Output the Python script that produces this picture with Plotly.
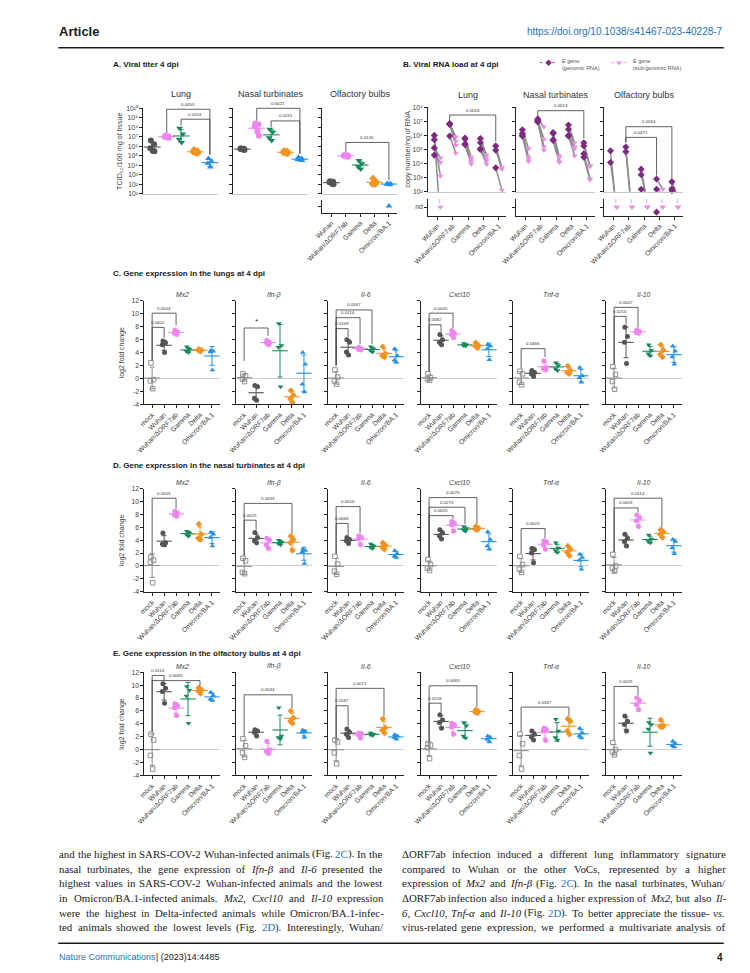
import re
import numpy as np
import plotly.graph_objects as go

W, H = 750, 973
SANS = "Liberation Sans"
SERIF = "Liberation Serif"
INK = "#1a1a1a"
TXT = "#404040"
LINK = "#1f70b8"
AXC = "#222222"

TISSUES = ["Lung", "Nasal turbinates", "Olfactory bulbs"]
VIRUSES = ["Wuhan", "Wuhan/ΔORF7ab", "Gamma", "Delta", "Omicron/BA.1"]
GROUPS = ["mock"] + VIRUSES
GENES = ["Mx2", "Ifn-β", "Il-6", "Cxcl10", "Tnf-α", "Il-10"]
ND = None

# ---------------- A: viral titre (TCID50 / 100 mg tissue), ND = not detected
A_LUNG = [[4.0e6, 1.6e6, 6.3e5, 3.2e5, 3.0e5],
          [1.3e7, 1.1e7, 1.0e7, 9.0e6, 8.0e6],
          [8.0e7, 2.0e7, 5.6e6, 2.5e6],
          [4.0e5, 3.2e5, 2.5e5, 2.0e5, 1.9e5],
          [5.0e4, 2.5e4, 1.6e4, 6.3e3]]
A_NASAL = [[6.3e5, 5.6e5, 5.0e5, 4.5e5, 4.0e5],
           [2.5e8, 2.0e8, 1.2e8, 4.0e7, 1.3e7],
           [6.3e7, 3.2e7, 8.0e6, 4.0e6],
           [3.2e5, 2.8e5, 2.2e5, 2.0e5, 1.8e5],
           [7.0e4, 5.0e4, 4.0e4, 3.5e4, 3.2e4]]
A_OLF = [[2.0e2, 1.8e2, 1.6e2, 1.1e2, 1.0e2],
         [1.2e5, 1.1e5, 1.0e5, 9.0e4, 8.0e4],
         [3.2e4, 1.4e4, 7.0e3, 4.0e3],
         [4.0e2, 1.6e2, 1.1e2, 1.0e2],
         [1.2e2, 1.1e2, 1.0e2, 9.0e1, ND]]
A_LUNG_P = [(1, 4, 9.9, 7.4, 5.1, "0.0053"), (2, 4, 8.85, 8.2, 5.1, "0.0154")]
A_NASAL_P = [(1, 4, 10.0, 8.7, 5.2, "0.0021"), (2, 4, 8.67, 8.0, 5.2, "0.0251")]
A_OLF_P = [(1, 4, 6.4, 5.4, 2.4, "0.0126")]

# ---------------- B: E gene copies / ng RNA (genomic, sub-genomic per animal)
B_LUNG_GEN = [[1.0e6, 5.0e5, 1.3e5, 4.0e4], [7.0e6, 6.5e6, 6.0e6, 9.0e5],
              [6.5e5, 5.5e5, 2.5e5, 2.2e5], [6.0e5, 3.0e5, 1.1e5, 1.0e5],
              [1.8e5, 9.0e4, 5.0e3]]
B_LUNG_SUB = [[ND, 1.3e3, 2.5e4, 1.2e4], [8.0e5, 4.0e5, 2.0e5, 5.5e4],
              [3.0e4, 2.0e4, 1.4e4, 9.0e3], [4.0e4, 2.5e4, 1.6e4, 9.0e3],
              [5.5e3, 4.0e3, 1.3e2]]
B_NASAL_GEN = [[2.5e6, 1.4e6, 1.0e6, 9.0e5], [1.5e7, 1.2e7, 1.0e7, 9.0e6],
               [1.6e6, 1.4e6, 5.0e5, 4.5e5], [5.5e6, 2.8e6, 1.0e6, 9.0e5],
               [3.0e5, 1.8e5, 5.0e4, 2.8e4]]
B_NASAL_SUB = [[1.2e5, 3.0e4, 2.0e4, 1.4e4], [4.0e6, 5.5e5, 1.6e5, 9.0e4],
               [3.5e4, 2.5e4, 1.4e4, 1.2e4], [3.0e5, 1.6e5, 1.1e5, 3.5e4],
               [7.0e3, 6.0e3, 8.0e2, 7.0e2]]
B_OLF_GEN = [[8.0e4, 1.2e4], [1.5e5, 7.0e4], [4.0e3, 1.6e3, 1.5e2],
             [8.0e2, 1.5e2, ND], [5.0e2, 1.6e2, 1.2e2]]
B_OLF_SUB = [[ND, ND], [ND, ND], [ND, ND, ND], [1.5e2, ND, ND], [ND, ND, ND]]
B_LUNG_P = [(1, 4, 7.45, 7.05, 5.6, "0.0053")]
B_NASAL_P = [(1, 4, 7.76, 7.4, 5.8, "0.0013")]
B_OLF_P = [(1, 3, 5.86, 5.5, 3.15, "0.0471"), (1, 4, 6.62, 5.5, 2.9, "0.0264")]

# ---------------- C/D/E: log2 fold change (mock, Wuhan, dORF7ab, Gamma, Delta, Omicron)
C_MX2 = [[2.4, -0.2, -0.4, -1.6], [5.8, 5.5, 5.2, 4.0], [7.5, 7.2, 7.0, 6.8],
         [4.9, 4.5, 4.2, 4.0], [4.5, 4.4, 4.3, 4.2], [4.3, 4.2, 4.1, 1.3]]
C_IFNB = [[0.7, 0.4, -0.1, -0.5], [-1.1, -1.3, -3.1, -3.4], [5.9, 5.6, 5.5, 5.2],
          [8.5, 5.1, 4.8, -1.3], [-1.9, -2.6, -3.2, -3.7], [4.0, 2.2, -0.9, -2.1]]
C_IL6 = [[1.3, 0.2, -0.4, -0.9], [6.0, 5.6, 4.1, 3.6], [4.8, 4.6, 4.5, 4.4],
         [4.9, 4.6, 4.3, 4.1], [4.9, 3.8, 3.5, 3.3], [4.6, 3.5, 2.8, 2.5]]
C_CXCL10 = [[0.7, 0.1, -0.1, -0.3], [6.8, 6.0, 5.6, 5.2], [7.4, 7.0, 6.8, 6.3],
            [5.4, 5.2, 5.1, 5.0], [5.5, 5.1, 5.0, 4.7], [5.2, 5.0, 4.6, 2.9]]
C_TNFA = [[1.1, 0.7, -0.6, -1.0], [1.2, 0.9, 0.7, 0.3], [2.7, 1.7, 1.5, 1.3],
          [2.4, 2.0, 1.5, 1.2], [1.9, 1.2, 0.9, 0.7], [1.7, 0.4, 0.1, -0.6]]
C_IL10 = [[1.8, 0.6, -0.5, -1.7], [7.9, 6.5, 5.6, 2.3], [7.5, 7.3, 7.1, 7.0],
          [5.2, 4.3, 3.8, 3.5], [5.2, 4.4, 3.7, 3.3], [5.0, 4.2, 3.3, 2.2]]

D_MX2 = [[1.4, 0.9, 0.6, -2.6], [5.1, 3.6, 3.4, 3.3], [8.5, 8.2, 7.9, 7.7],
         [5.4, 5.1, 4.9, 4.6], [6.5, 4.9, 4.3, 4.1], [5.2, 4.9, 4.4, 3.1]]
D_IFNB = [[1.2, 0.8, -1.0, -1.2], [5.2, 4.4, 3.9, 3.6], [4.3, 4.0, 3.3, 2.7],
          [4.0, 3.7, 3.5, 3.3], [4.6, 4.1, 3.6, 2.4], [2.6, 2.4, 2.2, 0.4]]
D_IL6 = [[1.5, 0.3, -0.8, -1.3], [4.4, 4.1, 3.9, 3.5], [4.7, 4.4, 4.2, 3.3],
         [3.4, 3.1, 2.9, 2.7], [3.6, 3.2, 2.9, 2.6], [2.4, 1.9, 1.5, 1.3]]
D_CXCL10 = [[1.0, 0.2, -0.3, -0.7], [5.6, 5.1, 4.7, 4.2], [6.9, 6.6, 6.4, 5.4],
            [6.1, 5.8, 5.6, 5.4], [6.1, 5.9, 5.7, 5.6], [5.3, 4.1, 3.1, 2.6]]
D_TNFA = [[1.5, 0.2, -0.5, -1.0], [2.7, 2.5, 2.0, 0.5], [3.9, 3.7, 3.3, 2.6],
          [3.6, 2.8, 2.4, 2.1], [3.1, 2.6, 2.1, 1.6], [1.8, 1.3, 0.9, -0.5]]
D_IL10 = [[1.8, 0.0, -0.3, -0.8], [4.9, 4.3, 3.8, 3.1], [7.9, 7.5, 7.0, 6.1],
          [4.8, 4.2, 3.8, 3.6], [5.6, 5.3, 4.9, 4.4], [4.1, 3.8, 2.8, 1.9]]

E_MX2 = [[2.4, 1.5, -0.9, -3.0], [10.2, 9.5, 9.0, 7.2], [7.1, 6.8, 6.5, 5.3],
         [9.8, 9.2, 8.3, 4.1], [9.6, 9.3, 9.1, 8.7], [8.9, 8.4, 7.8, 7.6]]
E_IFNB = [[1.7, 0.6, -0.5, -1.2], [3.1, 2.9, 2.7, 2.1], [1.3, 0.0, -0.3, -0.6],
          [6.5, 2.1, 1.9, 1.7], [6.0, 4.9, 4.4, 4.1], [3.0, 2.8, 2.7, 1.9]]
E_IL6 = [[1.5, 1.2, -0.5, -2.2], [3.2, 2.7, 2.4, 1.9], [2.6, 2.5, 2.3, 1.8],
         [2.6, 2.4, 2.3, 2.2], [4.8, 3.4, 3.0, 2.6], [2.3, 2.1, 1.9, 1.6]]
E_CXCL10 = [[0.9, 0.7, 0.3, -1.4], [5.4, 4.6, 4.2, 3.3], [4.1, 3.8, 3.5, 2.4],
            [4.2, 3.7, 2.1, 1.8], [6.2, 5.9, 5.8, 5.7], [2.1, 1.9, 1.6, 1.2]]
E_TNFA = [[2.4, 0.9, -0.9, -3.0], [2.9, 2.4, 2.0, 1.5], [3.3, 3.1, 2.9, 1.4],
          [4.7, 2.9, 1.9, 1.5], [4.8, 4.4, 2.9, 2.4], [3.3, 2.6, 2.1, 1.8]]
E_IL10 = [[1.1, 0.0, -0.3, -0.8], [5.2, 4.4, 3.9, 2.9], [8.0, 7.6, 7.0, 6.2],
          [4.2, 3.9, 3.2, -0.5], [4.6, 3.7, 3.6, 3.5], [1.3, 0.9, 0.6, 0.4]]

# significance brackets: (group i, group j, bracket level, left foot, right foot, p)
C_P = [[(0, 1, 7.9, 2.8, 6.3, "0.0402"), (0, 2, 10.1, 2.8, 8.2, "0.0004")],
       [(0, 2, 7.8, 2.7, 6.6, "*")],
       [(0, 1, 7.7, 2.0, 6.4, "0.0159"), (0, 2, 9.4, 2.0, 5.3, "0.0114"), (0, 3, 10.6, 2.0, 5.3, "0.0347")],
       [(0, 1, 8.3, 1.1, 7.2, "0.0082"), (0, 2, 10.1, 1.1, 7.8, "0.0005")],
       [(0, 2, 4.6, 1.5, 3.3, "0.0466")],
       [(0, 1, 9.6, 2.2, 8.3, "0.0215"), (0, 2, 11.0, 2.2, 7.9, "0.0007")]]
D_P = [[(0, 2, 10.5, 1.8, 8.9, "0.0003")],
       [(0, 1, 7.1, 1.6, 5.6, "0.0025"), (0, 4, 9.7, 1.6, 5.0, "0.0433")],
       [(0, 1, 6.6, 1.9, 4.8, "0.0068"), (0, 2, 9.2, 1.9, 5.1, "0.0016")],
       [(0, 2, 7.8, 1.4, 7.3, "0.0025"), (0, 3, 9.1, 1.4, 6.5, "0.0275"), (0, 4, 10.6, 1.4, 6.5, "0.0075")],
       [(0, 2, 5.8, 1.9, 4.3, "0.0023")],
       [(0, 2, 9.0, 2.2, 8.3, "0.0003"), (0, 4, 10.5, 2.2, 6.0, "0.0114")]]
E_P = [[(0, 1, 11.5, 2.8, 10.7, "0.0114"), (0, 4, 10.7, 2.8, 9.9, "0.0083")],
       [(0, 4, 8.5, 2.1, 6.4, "0.0034")],
       [(0, 1, 6.8, 1.9, 3.6, "0.0187"), (0, 4, 9.5, 1.9, 5.2, "0.0071")],
       [(0, 1, 7.2, 1.3, 5.8, "0.0218"), (0, 4, 9.9, 1.3, 6.6, "0.0083")],
       [(0, 4, 6.6, 2.8, 5.2, "0.0347")],
       [(0, 2, 9.8, 1.5, 8.4, "0.0025")]]

LEFT_LINES = [
    "and the highest in SARS-COV-2 Wuhan-infected animals (Fig. {2C}). In the",
    "nasal turbinates, the gene expression of *Ifn-β* and *Il-6* presented the",
    "highest values in SARS-COV-2 Wuhan-infected animals and the lowest",
    "in Omicron/BA.1-infected animals. *Mx2,* *Cxcl10* and *Il-10* expression",
    "were the highest in Delta-infected animals while Omicron/BA.1-infec-",
    "ted animals showed the lowest levels (Fig. {2D}). Interestingly, Wuhan/",
]
RIGHT_LINES = [
    "ΔORF7ab infection induced a different lung inflammatory signature",
    "compared to Wuhan or the other VoCs, represented by a higher",
    "expression of *Mx2* and *Ifn-β* (Fig. {2C}). In the nasal turbinates, Wuhan/",
    "ΔORF7ab infection also induced a higher expression of *Mx2*, but also *Il-*",
    "*6,* *Cxcl10,* *Tnf-α* and *Il-10* (Fig. {2D}). To better appreciate the tissue- *vs.*",
    "virus-related gene expression, we performed a multivariate analysis of",
]

# ---------------------------------------------------------------- styles
STYLE = {
    "mock": ("square-open", "#8e8e8e"),
    "Wuhan": ("circle", "#555555"),
    "Wuhan/ΔORF7ab": ("circle", "#ef86ef"),
    "Gamma": ("triangle-down", "#17895b"),
    "Delta": ("diamond", "#f29321"),
    "Omicron/BA.1": ("triangle-up", "#2490e6"),
}
GEN_C = "#7d2a80"
SUB_C = "#ea8fe6"
JIT = [-0.1, 0.12, -0.14, 0.04, 0.15]
SUP = str.maketrans("0123456789", "⁰¹²³⁴⁵⁶⁷⁸⁹")

traces, shapes, annotations = [], [], []
axes = {}
AXINFO = {}


def P(x):
    return x / W


def Q(y):
    return 1 - y / H


def new_axes(px0, px1, py0, py1, xr, yr, xa, ya):
    n = len(AXINFO) + 1
    s = "" if n == 1 else str(n)
    axes["xaxis" + s] = dict(xa, domain=[P(px0), P(px1)], range=xr, anchor="y" + s, fixedrange=True)
    axes["yaxis" + s] = dict(ya, domain=[Q(py1), Q(py0)], range=yr, anchor="x" + s, fixedrange=True)
    AXINFO["x" + s] = (px0, px1, py0, py1, xr, yr)
    return "x" + s, "y" + s


def to_px(ref, x, y):
    px0, px1, py0, py1, xr, yr = AXINFO[ref]
    X = px0 + (x - xr[0]) / (xr[1] - xr[0]) * (px1 - px0)
    Y = py1 - (y - yr[0]) / (yr[1] - yr[0]) * (py1 - py0)
    return X, Y


def text(x, y, s, size, color=INK, xanchor="center", yanchor="middle", angle=0, family=SANS,
         style="normal", weight="normal"):
    annotations.append(dict(x=P(x), y=Q(y), xref="paper", yref="paper", text=s, showarrow=False,
                            xanchor=xanchor, yanchor=yanchor, textangle=angle, borderpad=0,
                            font=dict(family=family, size=size, color=color, style=style,
                                      weight=weight)))


def hline(x0, x1, y, color=INK, width=1.0, dash="solid"):
    shapes.append(dict(type="line", xref="paper", yref="paper", x0=P(x0), x1=P(x1), y0=Q(y), y1=Q(y),
                       line=dict(color=color, width=width, dash=dash)))


def yaxis_style(labels, tickvals, ticktext, zeroline=False):
    return dict(showline=True, linecolor=AXC, linewidth=1, ticks="outside", ticklen=3, tickwidth=1,
                tickcolor=AXC, tickvals=tickvals, ticktext=ticktext, showticklabels=labels,
                tickfont=dict(family=SANS, size=6.8, color=TXT), showgrid=False,
                zeroline=zeroline, zerolinecolor="#cccccc", zerolinewidth=1)


def xaxis_cats(names):
    return dict(showline=True, linecolor=AXC, linewidth=1, ticks="outside", ticklen=3, tickwidth=1,
                tickcolor=AXC, tickvals=list(range(len(names))), ticktext=names, tickangle=-45,
                tickfont=dict(family=SANS, size=6.8, color=TXT), showgrid=False, zeroline=False)


def xaxis_plain(color="#c8c8c8"):
    return dict(showline=True, linecolor=color, linewidth=1, ticks="", showticklabels=False,
                showgrid=False, zeroline=False)


def add_points(xr, yr, xs, ys, symbol, color, size):
    open_ = symbol.endswith("open")
    traces.append(go.Scatter(x=xs, y=ys, xaxis=xr, yaxis=yr, mode="markers", cliponaxis=False,
                             marker=dict(symbol=symbol, size=size, color=color,
                                         line=dict(width=1 if open_ else 0, color=color)),
                             showlegend=False, hoverinfo="skip"))


def add_mean_sd(xr, yr, x, vals, color, size=12):
    m = float(np.mean(vals))
    sd = float(np.std(vals, ddof=1)) if len(vals) > 1 else 0.0
    traces.append(go.Scatter(x=[x], y=[m], xaxis=xr, yaxis=yr, mode="markers", cliponaxis=False,
                             marker=dict(symbol="line-ew", size=size, line=dict(color=color, width=1.1)),
                             error_y=dict(type="data", array=[sd], color=color, thickness=1, width=2.5),
                             showlegend=False, hoverinfo="skip"))


def bracket(ref, xi, xj, ytop, yl, yr_, label):
    xa, yt = to_px(ref, xi, ytop)
    xb, _ = to_px(ref, xj, ytop)
    _, ya = to_px(ref, xi, yl)
    _, yb = to_px(ref, xj, yr_)
    shapes.append(dict(type="path", xref="paper", yref="paper",
                       path=f"M {P(xa)},{Q(ya)} L {P(xa)},{Q(yt)} L {P(xb)},{Q(yt)} L {P(xb)},{Q(yb)}",
                       line=dict(color="#3a3a3a", width=0.8)))
    if label == "*":
        text((xa + xb) / 2, yt - 1, label, 8, "#333333", yanchor="bottom")
    else:
        text((xa + xb) / 2, yt - 1.5, label, 4.4, "#333333", yanchor="bottom")


# ---------------------------------------------------------------- header / footer
text(35, 20, "Article", 13, INK, xanchor="left", weight="bold")
text(715, 20, "https://doi.org/10.1038/s41467-023-40228-7", 10, LINK, xanchor="right")
hline(35, 715, 36, INK, 1.6)
hline(35, 715, 938, INK, 1.3)
text(35, 952, "Nature Communications", 9, LINK, xanchor="left")
text(134, 952, "| (2023)14:4485", 9, INK, xanchor="left")
text(715, 952, "4", 10, INK, xanchor="right", weight="bold")

# ---------------------------------------------------------------- A: viral titre
A_X = [122, 214, 305]
A_W = 76
A_XR = [-0.62, 4.55]
text(90, 53, "A. Viral titer 4 dpi", 8, INK, xanchor="left", weight="bold")
pow_txt = ["10" + str(k).translate(SUP) for k in range(1, 11)]
for col, (data, brs) in enumerate([(A_LUNG, A_LUNG_P), (A_NASAL, A_NASAL_P), (A_OLF, A_OLF_P)]):
    x0 = A_X[col]
    mx, my = new_axes(x0, x0 + A_W, 97, 183, A_XR, [1, 10], xaxis_plain(),
                      yaxis_style(col == 0, list(range(1, 11)), pow_txt))
    nx, ny = new_axes(x0, x0 + A_W, 189, 202, A_XR, [-1, 1], xaxis_cats(VIRUSES),
                      yaxis_style(col == 0, [0], ["nd"]))
    for g, vals in enumerate(data):
        sym, c = STYLE[VIRUSES[g]]
        det = [float(np.log10(v)) for v in vals if v is not None]
        nnd = sum(v is None for v in vals)
        add_points(mx, my, [g + JIT[k] for k in range(len(det))], det, sym, c, 6)
        if nnd:
            add_points(nx, ny, [g] * nnd, [0] * nnd, sym, c, 6)
        add_mean_sd(mx, my, g, det, c, 12)
    for (i, j, yt, yl, yr_, lab) in brs:
        bracket(mx, i, j, yt, yl, yr_, lab)
    cx, _ = to_px(mx, 2, 1)
    text(cx, 83, TISSUES[col], 9, "#333333")
text(98, 140, "TCID₅₀/100 mg of tissue", 7.2, TXT, angle=-90)

# ---------------------------------------------------------------- B: viral RNA
B_X = [413, 503, 593]
B_W = 80
B_XR = [-0.6, 4.5]
text(386, 53, "B. Viral RNA load at 4 dpi", 8, INK, xanchor="left", weight="bold")
pow_b = ["10" + str(k).translate(SUP) for k in range(2, 9)]
for col, (gen, sub, brs) in enumerate([(B_LUNG_GEN, B_LUNG_SUB, B_LUNG_P),
                                       (B_NASAL_GEN, B_NASAL_SUB, B_NASAL_P),
                                       (B_OLF_GEN, B_OLF_SUB, B_OLF_P)]):
    x0 = B_X[col]
    mx, my = new_axes(x0, x0 + B_W, 96, 181, B_XR, [2, 8], xaxis_plain(),
                      yaxis_style(col == 0, list(range(2, 9)), pow_b))
    nx, ny = new_axes(x0, x0 + B_W, 188, 205, B_XR, [-1, 1], xaxis_cats(VIRUSES),
                      yaxis_style(col == 0, [0], ["nd"]))
    lx, ly = [], []
    gx, gy, sx, sy, ndg, nds = [], [], [], [], [], []
    for g in range(5):
        for gv, sv in zip(gen[g], sub[g]):
            if gv is not None:
                lx += [g - 0.2, g + (0.2 if sv is not None else 0.06), None]
                ly += [float(np.log10(gv)), float(np.log10(sv)) if sv is not None else 2.0, None]
                gx.append(g - 0.2)
                gy.append(float(np.log10(gv)))
            else:
                ndg.append(g - 0.2)
            if sv is not None:
                sx.append(g + 0.2)
                sy.append(float(np.log10(sv)))
            else:
                nds.append(g + 0.2)
    traces.append(go.Scatter(x=lx, y=ly, xaxis=mx, yaxis=my, mode="lines",
                             line=dict(color="#8c8c8c", width=1.5), showlegend=False, hoverinfo="skip"))
    stx, sty = [], []
    for v in sorted(set(nds)):
        stx += [v - 0.05, v - 0.05, None]
        sty += [0.95, 0.45, None]
    if stx:
        traces.append(go.Scatter(x=stx, y=sty, xaxis=nx, yaxis=ny, mode="lines",
                                 line=dict(color="#b9a0b9", width=0.8), showlegend=False,
                                 hoverinfo="skip"))
    add_points(mx, my, sx, sy, "triangle-down", SUB_C, 5.5)
    add_points(mx, my, gx, gy, "diamond", GEN_C, 5.5)
    add_points(nx, ny, nds, [0] * len(nds), "triangle-down", SUB_C, 5.5)
    if ndg:
        add_points(nx, ny, ndg, [-0.6] * len(ndg), "diamond", GEN_C, 5.5)
    for (i, j, yt, yl, yr_, lab) in brs:
        bracket(mx, i - 0.2, j - 0.2, yt, yl, yr_, lab)
    cx, _ = to_px(mx, 2, 2)
    text(cx, 84, TISSUES[col], 9, "#333333")
text(391, 138, "copy number/ng of RNA", 7.2, TXT, angle=-90)

# legend of panel B (drawn on a pixel-space overlay)
ox, oy = new_axes(0, W, 0, H, [0, W], [H, 0], dict(visible=False), dict(visible=False))
hline(527, 545, 51, GEN_C, 0.8, "dot")
hline(600, 616, 51, SUB_C, 0.8, "dot")
add_points(ox, oy, [536], [51], "diamond", GEN_C, 5)
add_points(ox, oy, [608], [51], "triangle-down", SUB_C, 5)
text(549, 49, "E gene", 5.5, "#555555", xanchor="left")
text(549, 56, "(genomic RNA)", 5.5, "#555555", xanchor="left")
text(621, 49, "E gene", 5.5, "#555555", xanchor="left")
text(621, 56, "(sub-genomic RNA)", 5.5, "#555555", xanchor="left")

# ---------------------------------------------------------------- C/D/E gene expression
PANEL_X = [123, 217, 311, 406, 500, 595]
PW, PH = 77, 104
G_XR = [-0.65, 5.65]
ROWS = [
    ("C. Gene expression in the lungs at 4 dpi", 263, 291,
     [C_MX2, C_IFNB, C_IL6, C_CXCL10, C_TNFA, C_IL10], C_P),
    ("D. Gene expression in the nasal turbinates at 4 dpi", 457, 480,
     [D_MX2, D_IFNB, D_IL6, D_CXCL10, D_TNFA, D_IL10], D_P),
    ("E. Gene expression in the olfactory bulbs at 4 dpi", 646, 665,
     [E_MX2, E_IFNB, E_IL6, E_CXCL10, E_TNFA, E_IL10], E_P),
]
ytv = list(range(-4, 13, 2))
ytt = [str(v) for v in ytv]
for title, ty, top, panels, pvals in ROWS:
    text(90, ty, title, 8, INK, xanchor="left", weight="bold")
    text(100, top + 52, "log2 fold change", 7, TXT, angle=-90)
    for col, data in enumerate(panels):
        x0 = PANEL_X[col]
        xr, yr = new_axes(x0, x0 + PW, top, top + PH, G_XR, [-4, 12], xaxis_cats(GROUPS),
                          yaxis_style(col == 0, ytv, ytt, zeroline=True))
        for g, vals in enumerate(data):
            sym, c = STYLE[GROUPS[g]]
            add_points(xr, yr, [g + JIT[k] for k in range(len(vals))], vals, sym, c,
                       4.5 if g == 0 else 5)
        for g, vals in enumerate(data):
            add_mean_sd(xr, yr, g, vals, STYLE[GROUPS[g]][1], 11)
        for (i, j, yt, yl, yr_, lab) in pvals[col]:
            bracket(xr, i, j, yt, yl, yr_, lab)
        cx, _ = to_px(xr, 2.5, 0)
        text(cx, top - 6, GENES[col], 6.8, TXT, style="italic")

# ---------------------------------------------------------------- body text (justified)
TW = {" ": 250, "(": 333, ")": 333, "-": 333, ".": 250, ",": 250, "/": 278, ":": 278,
      "Δ": 612, "β": 500, "α": 520}
TW.update({d: 500 for d in "0123456789"})
TW.update(dict(zip("ABCDEFGHIJKLMNOPQRSTUVWXYZ",
                   [722, 667, 667, 722, 611, 556, 722, 722, 333, 389, 722, 611, 889, 722, 722, 556,
                    722, 667, 556, 611, 722, 722, 944, 722, 722, 611])))
TW.update(dict(zip("abcdefghijklmnopqrstuvwxyz",
                   [444, 500, 444, 500, 444, 333, 500, 500, 278, 278, 500, 278, 778, 500, 500, 500,
                    500, 333, 389, 278, 500, 500, 722, 500, 500, 444])))


def segments(word):
    out = []
    for m in re.finditer(r"\*([^*]+)\*|\{([^}]+)\}|([^*{}]+)", word):
        if m.group(1):
            out.append((m.group(1), "italic", INK))
        elif m.group(2):
            out.append((m.group(2), "normal", LINK))
        else:
            out.append((m.group(3), "normal", INK))
    return out


def swidth(s):
    return sum(TW.get(ch, 500) for ch in s) / 1000.0


def wwidth(w):
    return sum(swidth(s) for s, _, _ in segments(w))


COLS = [(35, 365, LEFT_LINES), (385, 715, RIGHT_LINES)]
nat = []
for _, _, lines in COLS:
    for ln in lines:
        ws = ln.split(" ")
        nat.append(sum(wwidth(w) for w in ws) + 0.25 * (len(ws) - 1))
fs = min(11.0, 330 / max(nat) * 0.985)
for x0, x1, lines in COLS:
    for k, ln in enumerate(lines):
        ws = ln.split(" ")
        wsum = sum(wwidth(w) for w in ws) * fs
        gap = (x1 - x0 - wsum) / (len(ws) - 1)
        x = x0
        y = 848 + k * 14.8
        for w in ws:
            for s, st, c in segments(w):
                text(x, y, s, fs, c, xanchor="left", family=SERIF, style=st)
                x += swidth(s) * fs
            x += gap

fig = go.Figure(data=traces)
fig.update_layout(width=W, height=H, margin=dict(l=0, r=0, t=0, b=0), paper_bgcolor="white",
                  plot_bgcolor="rgba(0,0,0,0)", showlegend=False, shapes=shapes,
                  annotations=annotations, font=dict(family=SANS), **axes)
fig.write_html("out.html")
